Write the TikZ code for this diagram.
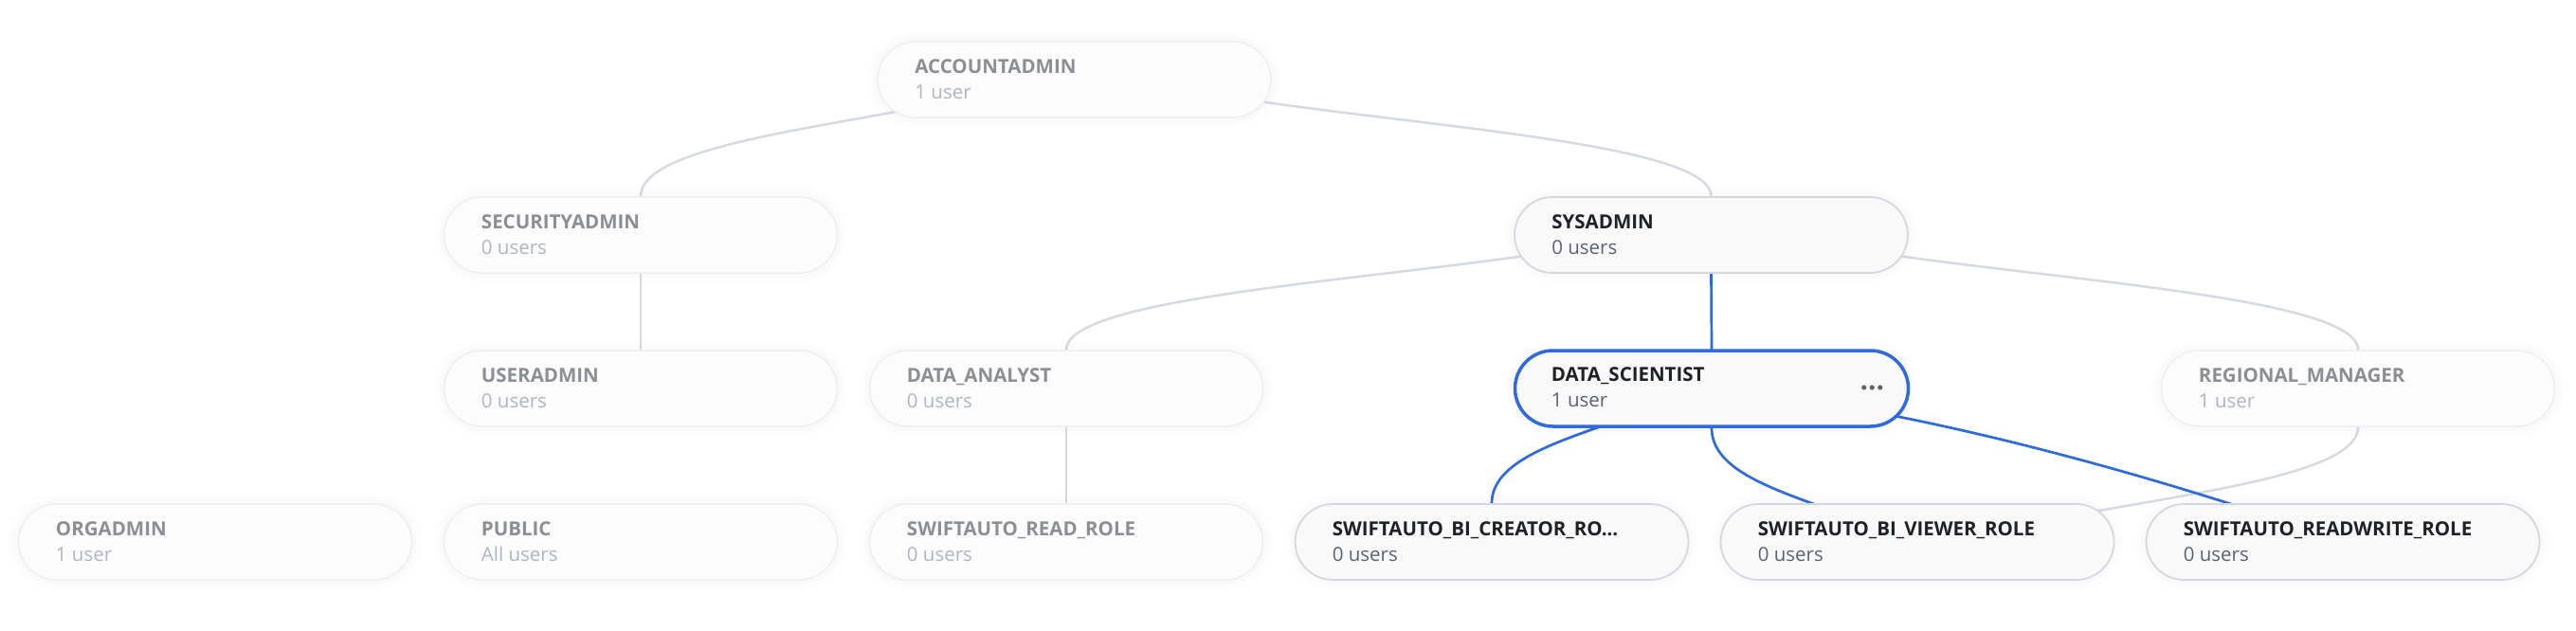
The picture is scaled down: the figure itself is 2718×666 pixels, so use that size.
\documentclass[tikz,border=0pt]{standalone}
\usepackage{fontspec}
\setmainfont{Open Sans}
\usetikzlibrary{calc}
\pgfdeclarelayer{back}
\pgfdeclarelayer{bg}
\pgfsetlayers{back,bg,main}
\definecolor{fadefill}{HTML}{FCFCFD}
\definecolor{fadeborder}{HTML}{EEEFF2}
\definecolor{fadetitle}{HTML}{8B8E93}
\definecolor{fadesub}{HTML}{B0B5C5}
\definecolor{actfill}{HTML}{F9F9FA}
\definecolor{actborder}{HTML}{D4D8E0}
\definecolor{acttitle}{HTML}{1E2227}
\definecolor{actsub}{HTML}{5B6275}
\definecolor{selblue}{HTML}{2F6BDD}
\definecolor{edgegray}{HTML}{D6DAE3}
\definecolor{dotc}{HTML}{5D6370}
\tikzset{
  rolebox/.style={rounded corners=40pt, minimum width=415pt, minimum height=80pt, inner sep=0pt,
    preaction={draw=black, draw opacity=0.008, line width=20pt},
    preaction={draw=black, draw opacity=0.01, line width=10pt}},
  faded/.style={rolebox, fill=fadefill, draw=fadeborder, line width=1.5pt},
  active/.style={rolebox, fill=actfill, draw=actborder, line width=1.8pt},
  selected/.style={rolebox, fill=actfill, draw=selblue, line width=3.5pt},
  ttl/.style={anchor=base west, inner sep=0pt, font=\fontsize{20.5}{24}\selectfont\bfseries},
  sub/.style={anchor=base west, inner sep=0pt, font=\fontsize{20.5}{24}\selectfont},
  fttl/.style={ttl, text=fadetitle},
  fsub/.style={sub, text=fadesub},
  attl/.style={ttl, text=acttitle},
  asub/.style={sub, text=actsub},
  gedge/.style={draw=edgegray, line width=2.5pt},
  bedge/.style={draw=selblue, line width=2.7pt},
}
\newcommand{\rolelabels}[4]{%
  \node[#2ttl] (#1-t) at ($(#1.north west)+(40,34)$) {#3};
  \node[#2sub] (#1-s) at ($(#1.north west)+(40,61)$) {#4};
}
\begin{document}
\begin{tikzpicture}[x=1pt,y=-1pt]
\useasboundingbox (0,0) rectangle (2718,666);
\begin{pgfonlayer}{back}
\fill[white] (0,0) rectangle (2718,666);
\end{pgfonlayer}

% row 1
\node[faded] (acc) at (1133.5,84) {};
% row 2
\node[faded] (sec) at (676,248) {};
\node[active] (sys) at (1805.5,248) {};
% row 3
\node[faded] (usr) at (676,410) {};
\node[faded] (da) at (1125,410) {};
\node[selected] (ds) at (1806,410) {};
\node[faded] (reg) at (2488,410) {};
% row 4
\node[faded] (org) at (227,572) {};
\node[faded] (pub) at (676,572) {};
\node[faded] (rd) at (1125,572) {};
\node[active] (cr) at (1574,572) {};
\node[active] (vw) at (2023,572) {};
\node[active] (rw) at (2472,572) {};

\rolelabels{acc}{f}{ACCOUNTADMIN}{1 user}
\rolelabels{sec}{f}{SECURITYADMIN}{0 users}
\rolelabels{sys}{a}{SYSADMIN}{0 users}
\rolelabels{usr}{f}{USERADMIN}{0 users}
\rolelabels{da}{f}{DATA\_ANALYST}{0 users}
\rolelabels{ds}{a}{DATA\_SCIENTIST}{1 user}
\rolelabels{reg}{f}{REGIONAL\_MANAGER}{1 user}
\rolelabels{org}{f}{ORGADMIN}{1 user}
\rolelabels{pub}{f}{PUBLIC}{All users}
\rolelabels{rd}{f}{SWIFTAUTO\_READ\_ROLE}{0 users}
\rolelabels{cr}{a}{SWIFTAUTO\_BI\_CREATOR\_RO...}{0 users}
\rolelabels{vw}{a}{SWIFTAUTO\_BI\_VIEWER\_ROLE}{0 users}
\rolelabels{rw}{a}{SWIFTAUTO\_READWRITE\_ROLE}{0 users}

% menu dots
\coordinate (dsdots) at ($(ds.east)+(-40,-1)$);
\fill[dotc] ($(dsdots)+(-8.5,0)$) circle (2.6) (dsdots) circle (2.6) ($(dsdots)+(8.5,0)$) circle (2.6);

\begin{pgfonlayer}{bg}
\draw[gedge] (acc.north) .. controls +(0,82) and +(0,-82) .. (sec.north);
\draw[gedge] (acc.north) .. controls +(0,82) and +(0,-82) .. (sys.north);
\draw[gedge] (sec.south) -- (usr.north);
\draw[gedge] (sys.north) .. controls +(0,81) and +(0,-81) .. (da.north);
\draw[gedge] (sys.north) .. controls +(0,81) and +(0,-81) .. (reg.north);
\draw[gedge] (da.south) -- (rd.north);
\draw[gedge] (reg.south) .. controls +(0,81) and +(0,-81) .. (vw.south);
\draw[bedge] (sys.south) -- (ds.north);
\draw[bedge] (ds.north) .. controls +(0,81) and +(0,-81) .. (cr.north);
\draw[bedge] (ds.south) .. controls +(0,81) and +(0,-81) .. (vw.south);
\draw[bedge] (ds.center) .. controls +(220,20) and +(-172,-62) .. (rw.center);
\end{pgfonlayer}
\end{tikzpicture}
\end{document}
